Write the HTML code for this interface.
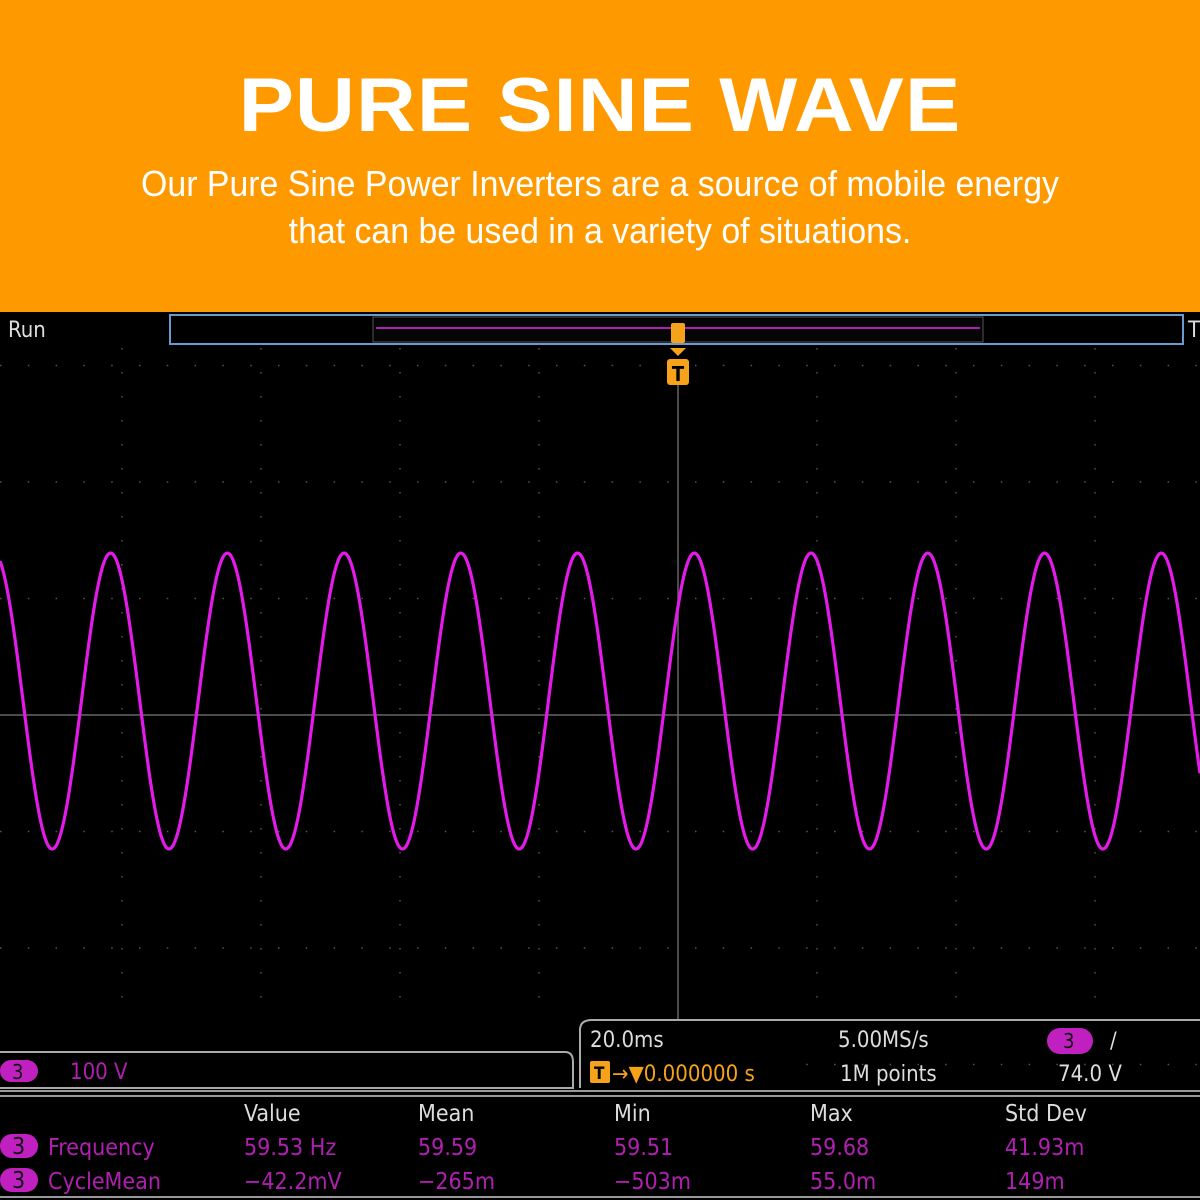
<!DOCTYPE html>
<html><head><meta charset="utf-8"><style>
html,body{margin:0;padding:0;background:#000;}
body{width:1200px;height:1200px;overflow:hidden;position:relative;font-family:"Liberation Sans",sans-serif;}
#hdr{position:absolute;left:0;top:0;width:1200px;height:312px;background:#FF9900;}
#title{position:absolute;left:0;width:1200px;top:66px;text-align:center;color:#fff;font-weight:bold;font-size:76px;line-height:80px;letter-spacing:1px;transform:scaleX(1.09);transform-origin:600px 0;}
.sub{position:absolute;left:0;width:1200px;text-align:center;color:#fff;font-family:"Liberation Sans Narrow","Liberation Sans",sans-serif;font-size:36px;line-height:40px;transform:scaleX(0.94);transform-origin:600px 0;}
</style></head><body>
<div id="hdr">
<div id="title">PURE SINE WAVE</div>
<div class="sub" style="top:164px">Our Pure Sine Power Inverters are a source of mobile energy</div>
<div class="sub" style="top:211px">that can be used in a variety of situations.</div>
</div>
<svg id="scope" width="1200" height="888" style="position:absolute;left:0;top:312px"></svg>
<script>
// Channel 3 waveform data
const peakVolts = [127,127,127,127,127,127,127,127,127,127,127];
const troughVolts = [-127,-127,-127,-127,-127,-127,-127,-127,-127,-127,-127];
const offsetVolts = [12];
const frequencyHz = [59.53];
const phaseMs = [2.35];
const timePerDivMs = [20];
const voltsPerDiv = [100];
const measHeaders = ["Value","Mean","Min","Max","Std Dev"];
const freqRow = ["59.53 Hz","59.59","59.51","59.68","41.93m"];
const cycleRow = ["\u221242.2mV","\u2212265m","\u2212503m","55.0m","149m"];

const NS="http://www.w3.org/2000/svg";
const svg=document.getElementById('scope');
const OY=312;
function mk(tag,attrs,parent){const e=document.createElementNS(NS,tag);for(const k in attrs)e.setAttribute(k,attrs[k]);(parent||svg).appendChild(e);return e;}
const cx=678, cy=715-OY, divX=139, divY=116.5;
const xScale=t=>cx+t/timePerDivMs[0]*divX;
const yScale=v=>cy-v/voltsPerDiv[0]*divY;

// grid
const grid=mk('g',{});


for(let k=-5;k<=4;k++){const x=cx+k*divX;if(k===0)continue;
  mk('line',{x1:x,y1:36,x2:x,y2:708,stroke:'#555','stroke-width':1.5,'stroke-dasharray':'1.5 22.5'},grid);}
for(let k=-3;k<=3;k++){const y=cy+k*divY;if(k===0)continue;
  mk('line',{x1:0,y1:y,x2:1200,y2:y,stroke:'#555','stroke-width':1.5,'stroke-dasharray':'1.5 26.3'},grid);}
mk('line',{x1:cx,y1:60,x2:cx,y2:708,stroke:'#666','stroke-width':1.5},grid);
mk('line',{x1:0,y1:cy,x2:1200,y2:cy,stroke:'#666','stroke-width':1.5},grid);

// waveform
const periodMs=1000/frequencyHz[0];
let d='';
for(let px=0;px<=1200;px+=1){
  const t=(px-cx)/divX*timePerDivMs[0];
  const ph=(t-phaseMs[0])/periodMs;
  const ci=Math.max(0,Math.min(peakVolts.length-1,Math.floor(ph)+5));
  const c=Math.cos(2*Math.PI*ph);
  const v=offsetVolts[0]+(c>=0?c*peakVolts[ci]:-c*troughVolts[ci]);
  d+=(px?'L':'M')+px+' '+yScale(v).toFixed(1);
}
const wave=mk('path',{d:d,fill:'none',stroke:'#E21BE8','stroke-width':3.2});


</script>
<svg width="1200" height="888" style="position:absolute;left:0;top:312px;font-family:'DejaVu Sans Condensed','Liberation Sans Narrow',sans-serif">
<g>
<rect x="0" y="3" width="1200" height="30" fill="#000"/>
<text x="8" y="25" fill="#ddd" font-size="22">Run</text>
<rect x="170" y="3" width="1013" height="29" fill="#000" stroke="#6a9ad0" stroke-width="2"/>
<rect x="373" y="5" width="610" height="25" fill="#050505" stroke="#555" stroke-width="1"/>
<line x1="376" y1="16" x2="980" y2="16" stroke="#b020b0" stroke-width="2"/>
<text x="1188" y="25" fill="#ddd" font-size="22">T</text>
</g>
<g fill="#F7A21B">
<rect x="671" y="11" width="14" height="20" rx="2"/>
<polygon points="670,36 686,36 678,44"/>
<rect x="667" y="47" width="22" height="26" rx="3"/>
<text x="678" y="69" text-anchor="middle" fill="#000" font-size="20" font-weight="bold">T</text>
</g>
<g>
<path d="M0 740 H565 Q573 740 573 750 V776 H0" fill="#000" stroke="#aaa" stroke-width="2"/>
<rect x="0" y="748" width="38" height="22" rx="11" fill="#c020c0"/>
<text x="12" y="767" fill="#111" font-size="20">3</text>
<text x="70" y="767" fill="#b020b0" font-size="22">100 V</text>
</g>
<g>
<path d="M580 776 V718 Q580 708 592 708 H1200" fill="#000" stroke="#aaa" stroke-width="2"/>
<text x="590" y="735" fill="#ddd" font-size="22">20.0ms</text>
<text x="838" y="735" fill="#ddd" font-size="22">5.00MS/s</text>
<rect x="1047" y="716" width="46" height="26" rx="13" fill="#c020c0"/>
<text x="1063" y="736" fill="#111" font-size="20">3</text>
<text x="1110" y="736" fill="#ddd" font-size="22">/</text>
<rect x="590" y="749" width="20" height="22" rx="2" fill="#F7A21B"/>
<text x="594" y="767" fill="#000" font-size="17" font-weight="bold">T</text>
<text x="612" y="769" fill="#F7A21B" font-size="22">→▼0.000000 s</text>
<text x="840" y="769" fill="#ddd" font-size="22">1M points</text>
<text x="1058" y="769" fill="#ddd" font-size="22">74.0 V</text>
</g>
<line x1="0" y1="779" x2="1200" y2="779" stroke="#999" stroke-width="2"/>
<line x1="0" y1="784" x2="1200" y2="784" stroke="#999" stroke-width="2"/>
<line x1="0" y1="885" x2="1200" y2="885" stroke="#999" stroke-width="2"/>
<g id="meas"></g>
</svg>
<script>
const meas=document.getElementById('meas');
const colX=[244,418,614,810,1005];
function tx(x,y,s,fill){const e=document.createElementNS(NS,'text');e.setAttribute('x',x);e.setAttribute('y',y);e.setAttribute('fill',fill);e.setAttribute('font-size','23');e.textContent=s;meas.appendChild(e);return e;}
measHeaders.forEach((h,i)=>{const e=tx(colX[i],809,h,'#ddd');

});
[["Frequency",freqRow,843],["CycleMean",cycleRow,877]].forEach(([name,row,y])=>{
  const b=document.createElementNS(NS,'rect');b.setAttribute('x',0);b.setAttribute('y',y-21);b.setAttribute('width',38);b.setAttribute('height',24);b.setAttribute('rx',12);b.setAttribute('fill','#c020c0');meas.appendChild(b);
  tx(12,y-1,'3','#111');
  const l=tx(48,y,name,'#b020b0');
  
  
  row.forEach((v,i)=>{const e=tx(colX[i],y,v,'#b020b0');
  
  });
});
</script>
</body></html>
